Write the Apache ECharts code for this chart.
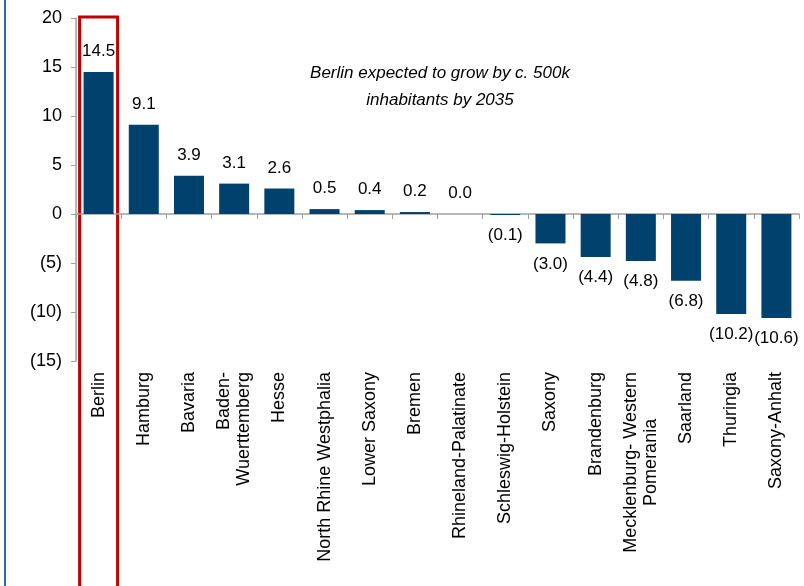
<!DOCTYPE html>
<html>
<head>
<meta charset="utf-8">
<script src="https://cdn.jsdelivr.net/npm/echarts@6/dist/echarts.min.js"></script>
<style>
html, body { margin: 0; padding: 0; background: #fff; }
#main { width: 804px; height: 586px; }
</style>
</head>
<body>
<div id="main"></div>
<script>
// population growth by federal state until 2035 (%)
var states = ['Berlin', 'Hamburg', 'Bavaria', 'Baden-\nWuerttemberg', 'Hesse',
	'North Rhine Westphalia', 'Lower Saxony', 'Bremen', 'Rhineland-Palatinate',
	'Schleswig-Holstein', 'Saxony', 'Brandenburg', 'Mecklenburg- Western\nPomerania',
	'Saarland', 'Thuringia', 'Saxony-Anhalt'];
var growth = [14.5, 9.1, 3.9, 3.1, 2.6, 0.5, 0.4, 0.2, 0.0, -0.1, -3.0, -4.4, -4.8, -6.8, -10.2, -10.6];
var yMin = -15, yMax = 20, yStep = 5;
var highlightState = 'Berlin';
var noteLines = ['Berlin expected to grow by c. 500k', 'inhabitants by 2035'];

var FONT = '"Liberation Sans", Arial, sans-serif';

function fmtNeg(v, digits) {
	return v < 0 ? '(' + Math.abs(v).toFixed(digits) + ')' : v.toFixed(digits);
}

var chart = echarts.init(document.getElementById('main'));

var barData = [];
for (var i = 0; i < growth.length; i++) {
	barData.push({
		value: growth[i],
		label: { position: growth[i] < 0 ? 'bottom' : 'top' }
	});
}

var option = {
	animation: false,
	grid: { left: 76, right: 5, top: 18, bottom: 225, outerBoundsMode: 'none', containLabel: false },
	xAxis: {
		type: 'category',
		data: states,
		axisLine: { onZero: true, lineStyle: { color: '#a0a0a0', width: 1.5 } },
		axisTick: { show: true, length: 5, lineStyle: { color: '#a0a0a0' } },
		axisLabel: {
			interval: 0,
			rotate: 90,
			margin: 11,
			color: '#000',
			fontSize: 18,
			fontFamily: FONT,
			lineHeight: 20,
			formatter: function (v) {
				if (v.indexOf('Pomerania') >= 0) {
					return v.split('\n').map(function (s) { return '{c|' + s + '}'; }).join('\n');
				}
				return v;
			},
			rich: {
				c: { align: 'center', fontSize: 18, fontFamily: FONT, color: '#000', lineHeight: 20 }
			}
		}
	},
	yAxis: {
		type: 'value',
		min: yMin,
		max: yMax,
		interval: yStep,
		splitLine: { show: false },
		axisLine: { show: true, lineStyle: { color: '#a0a0a0', width: 1.5 } },
		axisTick: { show: true, length: 5, lineStyle: { color: '#a0a0a0' } },
		axisLabel: {
			margin: 14,
			color: '#000',
			fontSize: 18,
			fontFamily: FONT,
			formatter: function (v) { return fmtNeg(v, 0); }
		}
	},
	series: [{
		type: 'bar',
		data: barData,
		barWidth: 30,
		itemStyle: { color: '#00416e' },
		label: {
			show: true,
			distance: 12,
			color: '#000',
			fontSize: 17,
			fontFamily: FONT,
			formatter: function (p) { return fmtNeg(p.value, 1); }
		}
	}]
};

chart.setOption(option);

// highlight box around Berlin, left border line and note text
var cx = chart.convertToPixel({ xAxisIndex: 0 }, highlightState);
var yTop = chart.convertToPixel({ yAxisIndex: 0 }, yMax);
var band = chart.getModel().getComponent('xAxis', 0).axis.getBandWidth();
var boxW = band * 0.84;

chart.setOption({
	graphic: [
		{
			type: 'line',
			shape: { x1: 5, y1: 0, x2: 5, y2: 586 },
			style: { stroke: '#2f6aa3', lineWidth: 2 }
		},
		{
			type: 'rect',
			shape: { x: cx - boxW / 2, y: yTop - 1, width: boxW, height: 600 },
			style: { fill: null, stroke: '#c00000', lineWidth: 3 }
		},
		{
			type: 'text',
			x: 440,
			y: 60,
			style: {
				text: noteLines.join('\n'),
				align: 'center',
				verticalAlign: 'top',
				font: 'italic 17px ' + FONT,
				lineHeight: 27,
				fill: '#000'
			}
		}
	]
});
</script>
</body>
</html>
